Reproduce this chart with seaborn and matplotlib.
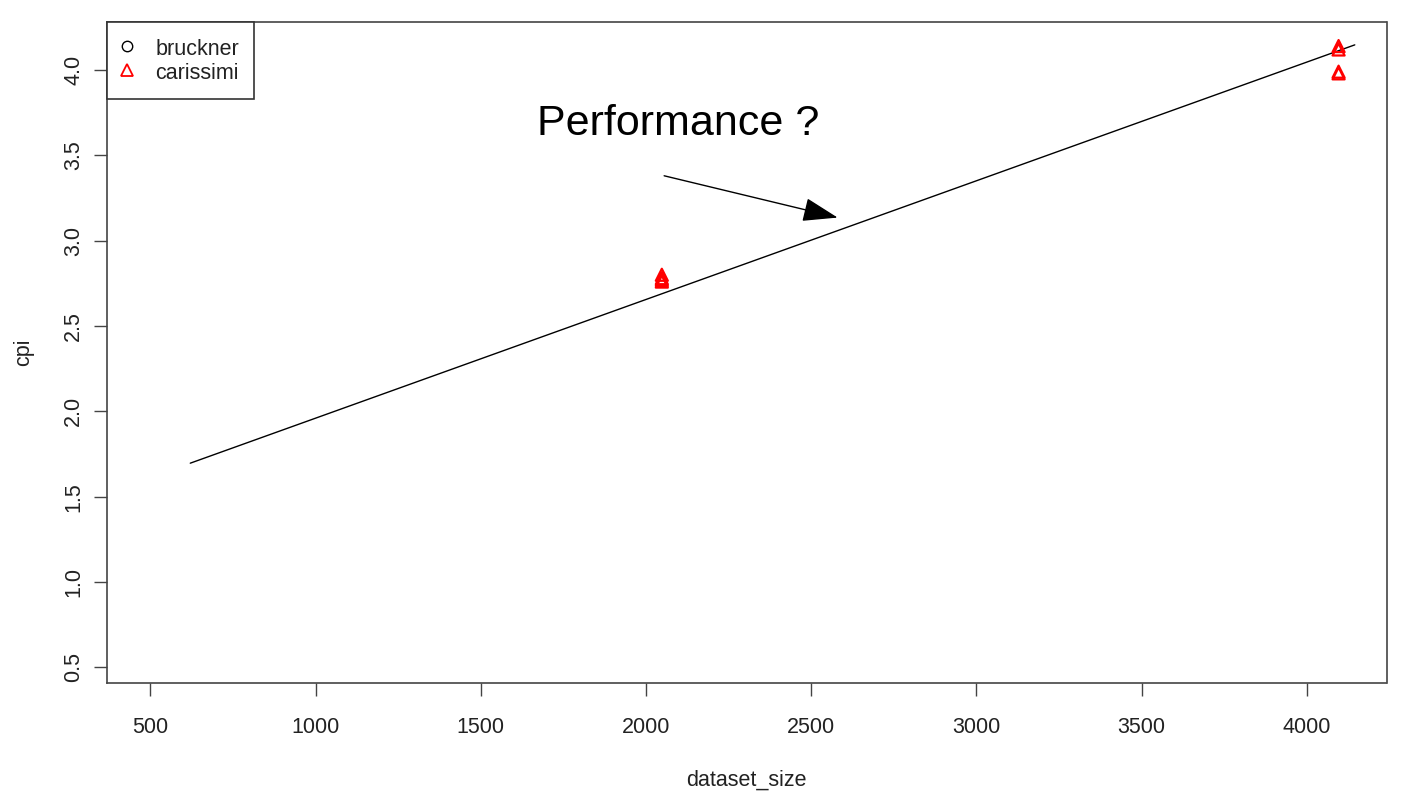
import numpy as np
import pandas as pd
import matplotlib
matplotlib.use("Agg")
import matplotlib.pyplot as plt
import seaborn as sns
from matplotlib.lines import Line2D

# ---- data ----
carissimi_size = [2048, 2048, 2048, 2048, 4096, 4096, 4096, 4096]
carissimi_cpi = [2.80, 2.78, 2.77, 2.76, 4.14, 4.12, 3.99, 3.98]
fit_x = [621, 4145]
fit_y = [1.696, 4.147]
arrow_start = (2055, 3.38)
arrow_end = (2580, 3.135)
annotation_text = "Performance ?"
x_ticks = [500, 1000, 1500, 2000, 2500, 3000, 3500, 4000]
y_ticks = [0.5, 1.0, 1.5, 2.0, 2.5, 3.0, 3.5, 4.0]
legend_labels = ["bruckner", "carissimi"]

sns.set_theme(style="white")
plt.rcParams['font.family'] = ['Liberation Sans', 'DejaVu Sans']

fig = plt.figure(figsize=(14.04, 7.99), dpi=100)
ax = fig.add_axes([107 / 1404, 1 - 683 / 799, (1386.5 - 107) / 1404, (683 - 22) / 799])

df = pd.DataFrame({"dataset_size": carissimi_size, "cpi": carissimi_cpi})
sns.scatterplot(data=df, x="dataset_size", y="cpi", marker="^", s=75,
                facecolors="none", edgecolor="#ff0000", linewidth=1.6, ax=ax, zorder=3)

fit_df = pd.DataFrame({"x": fit_x, "y": fit_y})
sns.lineplot(data=fit_df, x="x", y="y", color="black", linewidth=1.0, ax=ax, zorder=2)

ax.annotate("", xy=arrow_end, xytext=arrow_start,
            arrowprops=dict(arrowstyle="-|>,head_length=2.2,head_width=0.75",
                            color="black", lw=1.0, mutation_scale=10,
                            shrinkA=0, shrinkB=0))
ax.text(2097, 3.682, annotation_text, fontsize=31, ha="center", va="center", color="black")

ax.set_xlim(369, 4241)
ax.set_ylim(0.408, 4.281)
ax.set_xticks(x_ticks)
ax.set_xticklabels([str(t) for t in x_ticks])
ax.set_yticks(y_ticks)
ax.set_yticklabels([f"{t:.1f}" for t in y_ticks], rotation=90, va="center")
ax.tick_params(axis="both", which="major", direction="out", length=9.5, width=1.0,
               color="#444444", labelsize=15.5, labelcolor="#222222", bottom=True, left=True)
ax.tick_params(axis="x", pad=15)
ax.tick_params(axis="y", pad=7)

for sp in ax.spines.values():
    sp.set_color("#444444")
    sp.set_linewidth(1.2)

ax.set_xlabel("dataset_size", fontsize=15.5, color="#222222", labelpad=23)
ax.set_ylabel("cpi", fontsize=15.5, color="#222222", labelpad=21)

handles = [
    Line2D([], [], linestyle="none", marker="o", markersize=7.5, markerfacecolor="none",
           markeredgecolor="black", markeredgewidth=1.0),
    Line2D([], [], linestyle="none", marker="^", markersize=8.5, markerfacecolor="none",
           markeredgecolor="#ff0000", markeredgewidth=1.3),
]
leg = ax.legend(handles, legend_labels, loc="upper left", bbox_to_anchor=(0, 1),
                borderaxespad=0, fancybox=False, framealpha=1, edgecolor="#333333",
                fontsize=15.5, handlelength=0.45, handletextpad=1.1, borderpad=0.7,
                handleheight=1.12, labelspacing=0.05)
leg.get_frame().set_linewidth(1.2)
for t in leg.get_texts():
    t.set_color("#222222")

fig.savefig("out.png", dpi=100)
